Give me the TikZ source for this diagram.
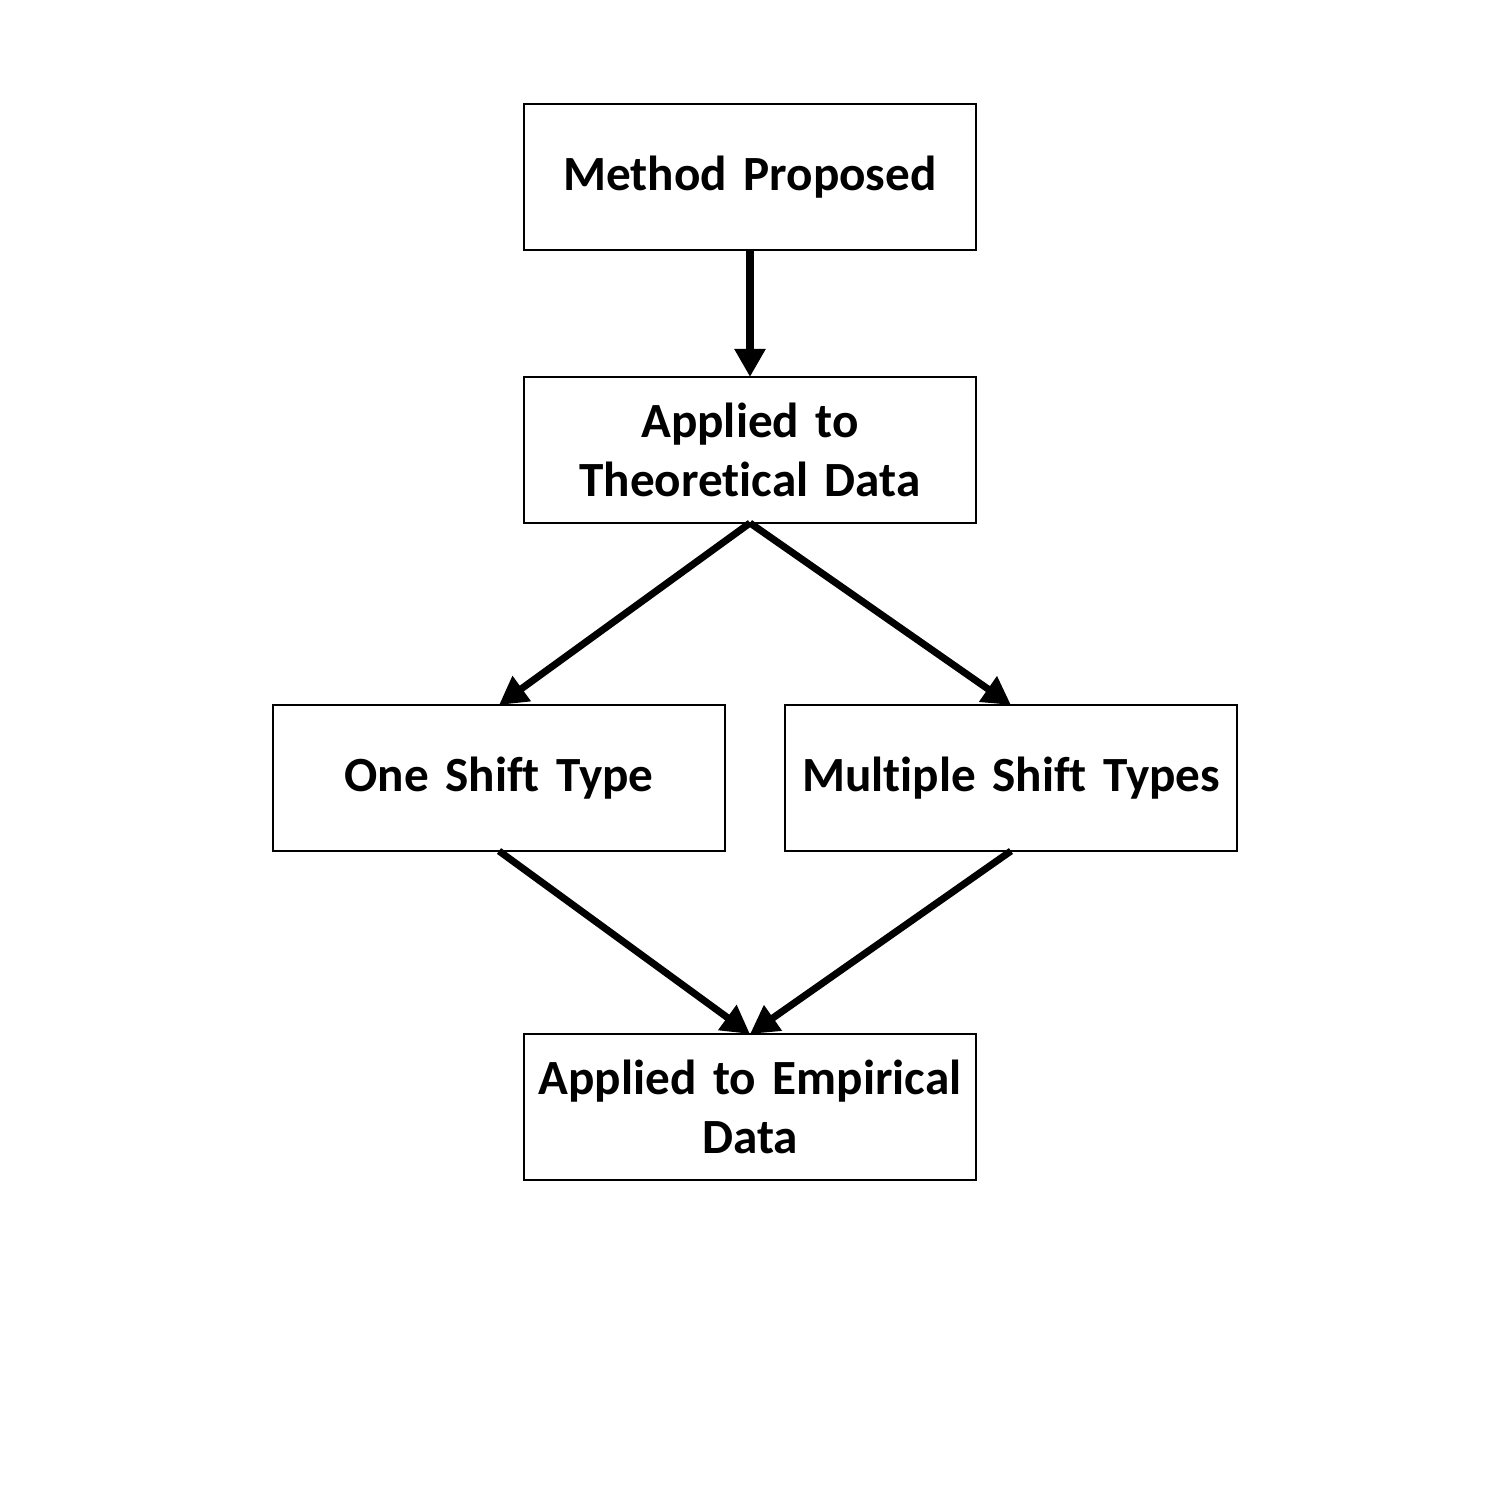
\documentclass[tikz,border=0pt]{standalone}
\usepackage{fontspec}
\setmainfont[Ligatures=NoCommon]{Carlito}
\usetikzlibrary{arrows.meta}
\usetikzlibrary{positioning}

\begin{document}
\begin{tikzpicture}[-{Triangle[length=8pt,width=8.4pt]},line width=2pt,
    step box/.style={rectangle,draw,line width=0.6pt,text width=4.5cm,align=center,
      minimum width=4.52cm,minimum height=1.46cm,inner sep=0pt,outer sep=0pt,
      font=\fontsize{14}{16.8}\selectfont\bfseries}]
    \useasboundingbox (0,0) rectangle (15,-15);
    \node[step box] (method) at (7.5,-1.77) {Method Proposed};
    \node[step box] (theo) [below=1.27cm of method] {Applied to\\Theoretical Data};
    \node[step box] (one) [below=1.82cm of theo,xshift=-2.51cm] {One Shift Type};
    \node[step box] (multi) [below=1.82cm of theo,xshift=2.61cm] {Multiple Shift Types};
    \node[step box] (emp) [below=1.83cm of one,xshift=2.51cm] {Applied to Empirical\\Data};

    \draw (method.south) -- (theo.north);
    \foreach \b in {one,multi} {
      \draw (theo.south) -- (\b.north);
      \draw (\b.south) -- (emp.north);
    }
  \end{tikzpicture}
\end{document}
